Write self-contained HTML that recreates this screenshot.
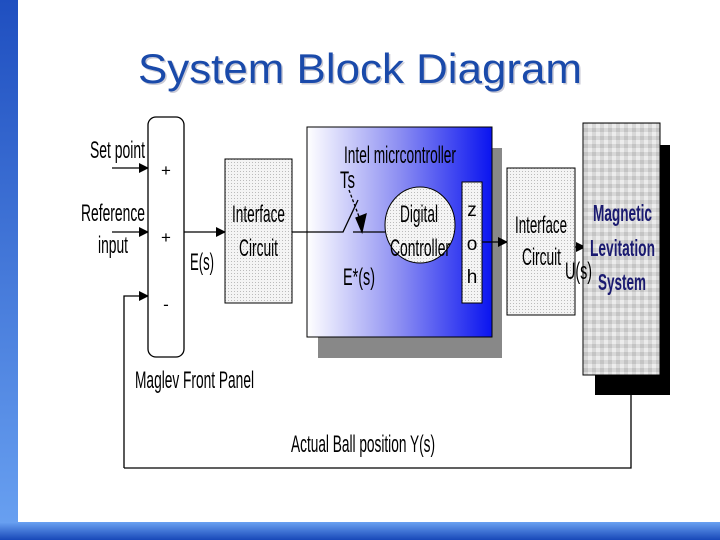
<!DOCTYPE html>
<html><head><meta charset="utf-8"><style>
html,body{margin:0;padding:0;background:#fff;width:720px;height:540px;overflow:hidden}
svg{display:block}
text{font-family:"Liberation Sans",Arial,sans-serif}
</style></head><body>
<svg width="720" height="540" viewBox="0 0 720 540" xmlns="http://www.w3.org/2000/svg">
<defs>
<linearGradient id="lb" x1="0" y1="0" x2="0" y2="1"><stop offset="0" stop-color="#1f4fc0"/><stop offset="1" stop-color="#6aa2f2"/></linearGradient>
<linearGradient id="bb" x1="0" y1="0" x2="0" y2="1"><stop offset="0" stop-color="#6aa2f2"/><stop offset="1" stop-color="#1848b8"/></linearGradient>
<linearGradient id="mc" x1="0" y1="0" x2="1" y2="0"><stop offset="0" stop-color="#ffffff"/><stop offset="0.5" stop-color="#8c8ef2"/><stop offset="1" stop-color="#0a14f0"/></linearGradient>
<pattern id="dots" width="3" height="3" patternUnits="userSpaceOnUse"><rect width="3" height="3" fill="#f4f4f4"/><rect width="1" height="1" fill="#bbb"/></pattern>
<pattern id="grid" width="8" height="8" patternUnits="userSpaceOnUse"><rect width="8" height="8" fill="#d8d8d8"/><rect width="4" height="4" fill="#c4c4c4"/><rect x="4" y="4" width="4" height="4" fill="#ececec"/></pattern>
<marker id="ar" markerWidth="10" markerHeight="10" refX="9" refY="5" orient="auto" markerUnits="userSpaceOnUse"><path d="M0,0 L10,5 L0,10 z" fill="#000"/></marker>
</defs>
<rect x="0" y="0" width="18" height="540" fill="url(#lb)"/>
<rect x="0" y="522" width="720" height="18" fill="url(#bb)"/>
<text x="139.5" y="84.5" font-size="42" fill="#aab" textLength="444" lengthAdjust="spacingAndGlyphs" opacity="0.6">System Block Diagram</text>
<text x="138" y="83" font-size="42" fill="#1a4aaa" textLength="444" lengthAdjust="spacingAndGlyphs">System Block Diagram</text>

<g stroke="#000" stroke-width="1.3" fill="none">
<line x1="112" y1="168" x2="148" y2="168" marker-end="url(#ar)"/>
<line x1="112" y1="232" x2="148" y2="232" marker-end="url(#ar)"/>
<polyline points="124,468 124,296 148,296" marker-end="url(#ar)"/>
<polyline points="124,468 631,468 631,395"/>
<line x1="184" y1="232" x2="225" y2="232" marker-end="url(#ar)"/>
</g>
<rect x="148" y="117" width="36" height="240" rx="8" fill="#fff" stroke="#000" stroke-width="1.3"/>
<text x="166" y="176" font-size="17" text-anchor="middle">+</text>
<text x="166" y="243" font-size="17" text-anchor="middle">+</text>
<text x="166" y="310" font-size="17" text-anchor="middle">-</text>
<g font-size="24">
<text x="90" y="158" textLength="55" lengthAdjust="spacingAndGlyphs">Set point</text>
<text x="81" y="221" textLength="64" lengthAdjust="spacingAndGlyphs">Reference</text>
<text x="98" y="253" textLength="30" lengthAdjust="spacingAndGlyphs">input</text>
<text x="190" y="270" textLength="24" lengthAdjust="spacingAndGlyphs">E(s)</text>
<text x="135" y="388" textLength="119" lengthAdjust="spacingAndGlyphs">Maglev Front Panel</text>
<text x="291" y="452" textLength="144" lengthAdjust="spacingAndGlyphs">Actual Ball position Y(s)</text>
</g>
<rect x="225" y="159" width="67" height="144" fill="url(#dots)" stroke="#000" stroke-width="1"/>
<g font-size="24">
<text x="232" y="222" textLength="53" lengthAdjust="spacingAndGlyphs">Interface</text>
<text x="239" y="256" textLength="39" lengthAdjust="spacingAndGlyphs">Circuit</text>
</g>

<rect x="318" y="148" width="184" height="210" fill="#888"/>
<rect x="307" y="127" width="185" height="210" fill="url(#mc)" stroke="#000" stroke-width="1"/>
<g font-size="24">
<text x="344" y="163" textLength="112" lengthAdjust="spacingAndGlyphs">Intel micrcontroller</text>
<text x="340" y="188" textLength="15" lengthAdjust="spacingAndGlyphs">Ts</text>
<text x="343" y="285" textLength="32" lengthAdjust="spacingAndGlyphs">E*(s)</text>
</g>
<g stroke="#000" stroke-width="1.3" fill="none">
<polyline points="292,232 343,232 358,200"/>
<line x1="353" y1="232" x2="385" y2="232"/>
<line x1="349" y1="190" x2="361" y2="222" stroke-dasharray="3,2"/>
<path d="M356,218 L362,232 L366,214 z" fill="#000"/>
<line x1="482" y1="242" x2="507" y2="242" marker-end="url(#ar)"/>
<line x1="575" y1="247" x2="585" y2="247" marker-end="url(#ar)"/>
</g>
<ellipse cx="420" cy="225" rx="35" ry="38" fill="url(#dots)" stroke="#000" stroke-width="1"/>
<g font-size="24">
<text x="400" y="222" textLength="38" lengthAdjust="spacingAndGlyphs">Digital</text>
<text x="390" y="256" textLength="60" lengthAdjust="spacingAndGlyphs">Controller</text>
</g>
<rect x="462" y="182" width="20" height="121" fill="url(#dots)" stroke="#000" stroke-width="1"/>
<g font-size="19" text-anchor="middle">
<text x="472" y="216">z</text>
<text x="472" y="250">o</text>
<text x="472" y="283">h</text>
</g>
<rect x="507" y="168" width="68" height="147" fill="url(#dots)" stroke="#000" stroke-width="1"/>
<g font-size="24">
<text x="515" y="233" textLength="52" lengthAdjust="spacingAndGlyphs">Interface</text>
<text x="522" y="265" textLength="39" lengthAdjust="spacingAndGlyphs">Circuit</text>
</g>
<rect x="595" y="145" width="75" height="250" fill="#000"/>
<rect x="583" y="123" width="77" height="252" fill="url(#grid)" stroke="#000" stroke-width="1"/>
<text x="565" y="279" font-size="24" textLength="27" lengthAdjust="spacingAndGlyphs">U(s)</text>
<g font-size="23" font-weight="bold" fill="#1a1a70">
<text x="593" y="221" textLength="59" lengthAdjust="spacingAndGlyphs">Magnetic</text>
<text x="590" y="256" textLength="65" lengthAdjust="spacingAndGlyphs">Levitation</text>
<text x="598" y="290" textLength="48" lengthAdjust="spacingAndGlyphs">System</text>
</g>
</svg>
</body></html>
